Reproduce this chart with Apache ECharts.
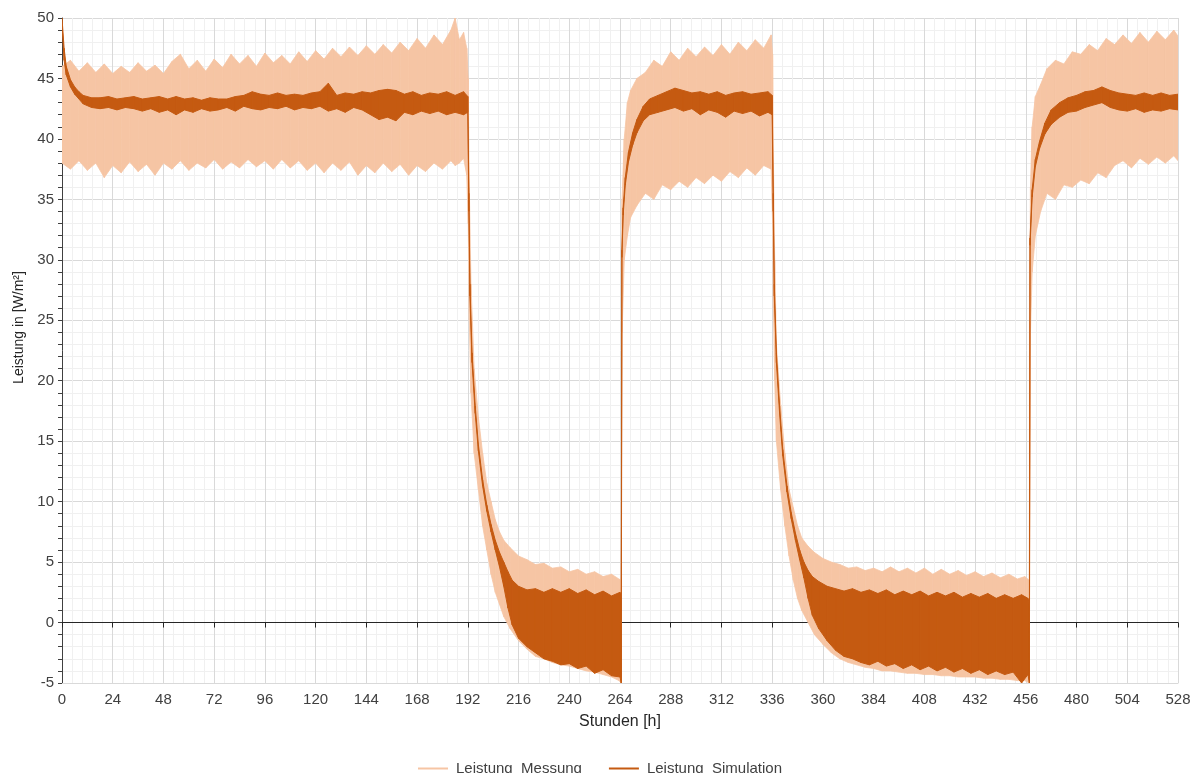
<!DOCTYPE html>
<html>
<head>
<meta charset="utf-8">
<script src="https://cdn.jsdelivr.net/npm/echarts@6/dist/echarts.min.js"></script>
<style>html,body{margin:0;padding:0;background:#fff;}#c{width:1200px;height:773px;}</style>
</head>
<body>
<div id="c"></div>
<script>
// ---- Data ----
const xTicks = [0,24,48,72,96,120,144,168,192,216,240,264,288,312,336,360,384,408,432,456,480,504,528];
const yTicks = [-5,0,5,10,15,20,25,30,35,40,45,50];

// Leistung Messung: hours, lower envelope, upper envelope
const mH = [0,4,8,12,16,20,24,28,32,36,40,44,48,52,56,60,64,68,72,76,80,84,88,92,96,100,104,108,112,116,120,124,128,132,136,140,144,148,152,156,160,164,168,172,176,180,184,186,188,190,191.5,
  192.2,192.7,193.5,195,197,199,201,203,205,207,209,212,216,220,224,228,232,236,240,244,248,252,256,260,263.5,264.5,
  265,266,267.5,269,272,276,280,284,288,292,296,300,304,308,312,316,320,324,328,332,335.5,
  336.2,336.6,337.2,338,340,342,344,346,348,350,353,356,360,364,368,372,376,380,384,388,392,396,400,404,408,412,416,420,424,428,432,436,440,444,448,452,455.5,457.6,
  458.2,459,460.5,463,466,470,474,478,482,486,490,494,498,502,506,510,514,518,522,526,528];
const mLo = [38.0,37.5,38.2,37.4,38.0,36.8,37.8,37.2,38.1,37.3,37.9,37.0,38.0,37.5,38.2,37.4,38.0,37.6,38.3,37.5,38.1,37.6,38.3,37.7,38.2,37.5,38.3,37.6,38.2,37.4,38.0,37.2,38.0,37.4,38.1,37.0,37.8,37.2,38.0,37.3,37.9,37.0,37.8,37.3,38.0,37.5,38.2,37.8,38.0,38.4,37.0,
  33,25,19,14,11,8,6,4,2.5,1.5,0.5,-0.5,-1.5,-2.2,-2.8,-3.0,-3.3,-3.5,-3.6,-3.8,-4.0,-4.1,-4.3,-4.5,-4.8,-5,
  24,30,32,33.5,34.5,35.5,35.0,36.2,35.8,36.5,36.0,36.8,36.3,37.0,36.5,37.3,36.8,37.6,37.0,37.8,37.5,
  33,26,20,15,11,8,5.5,3.5,2,1,0,-1,-1.8,-2.5,-3.0,-3.3,-3.5,-3.7,-3.8,-4.0,-4.0,-4.1,-4.2,-4.2,-4.3,-4.3,-4.4,-4.4,-4.5,-4.5,-4.5,-4.6,-4.6,-4.7,-4.7,-4.8,-4.8,-5,
  24,29,32,34,35.5,35.0,36.2,36.0,36.6,36.3,37.2,36.8,37.8,38.2,37.6,38.4,37.9,38.5,38.0,38.6,38.2];
const mHi = [46.0,46.5,45.6,46.3,45.5,46.2,45.4,46.0,45.5,46.3,45.6,46.1,45.4,46.4,47.0,45.8,46.5,45.6,46.6,45.9,47.0,46.2,46.9,46.0,47.1,46.3,46.9,46.2,47.2,46.4,47.3,46.6,47.5,46.8,47.6,46.9,47.7,47.0,47.8,47.1,48.0,47.3,48.3,47.5,48.6,47.8,49.0,50.0,48.2,48.8,47.5,
  45,36,28,21,17,14,11.5,10,8.5,7.5,6.8,6.2,5.5,5.2,4.8,4.9,4.5,4.6,4.2,4.4,4.0,4.2,3.8,4.0,3.6,3.5,
  35,40,43,44,45,45.5,46.5,46.0,47.2,46.5,47.5,46.8,47.6,46.9,47.8,47.0,48.0,47.3,48.2,47.5,48.6,
  47,38,30,23,18,14,11,9.5,8,7,6.3,5.8,5.3,5.0,4.8,4.5,4.6,4.3,4.5,4.2,4.6,4.2,4.5,4.1,4.5,4.0,4.4,4.0,4.3,3.9,4.2,3.8,4.1,3.7,4.0,3.6,3.8,3.5,
  36,41,43.5,44.5,45.8,46.5,46.2,47.2,47.0,47.8,47.3,48.3,47.8,48.6,47.9,48.8,48.0,48.9,48.2,49.0,48.5];

// Leistung Simulation: hours, lower envelope, upper envelope
const sH = [0,1,2,4,6,8,10,14,18,22,26,30,34,38,42,46,50,54,58,62,66,70,74,78,82,86,90,94,98,102,106,110,114,118,122,126,130,134,138,142,146,150,154,158,162,166,170,174,178,182,186,190,192,
  192.5,193,194,195.5,197,199,201,203,205,207,209,211,213,216,220,224,228,232,236,240,244,248,252,256,260,264,264.6,
  264.9,265.5,266.5,268,270,272,275,278,282,286,290,294,298,302,306,310,314,318,322,326,330,334,336,
  336.5,337,338,339.5,341,343,345,347,349,351,353,355,358,362,366,370,374,378,382,386,390,394,398,402,406,410,414,418,422,426,430,434,438,442,446,450,454,457,457.7,
  458,459,460.5,462.5,465,468,472,476,480,484,488,492,496,500,504,508,512,516,520,524,528];
const sLo = [49.5,46.5,45.3,44.3,43.7,43.3,42.9,42.6,42.5,42.6,42.4,42.6,42.5,42.3,42.5,42.2,42.4,42.0,42.4,42.2,42.5,42.3,42.4,42.6,42.3,42.7,42.5,42.4,42.6,42.5,42.7,42.4,42.6,42.5,42.7,42.3,42.5,42.2,42.6,42.4,42.0,41.6,41.8,41.5,42.2,42.0,42.3,42.1,42.3,42.0,42.2,42.0,42.2,
  34,27,21.5,17.3,14.2,11.3,9.2,7.5,6.0,4.6,3.0,1.2,-0.2,-1.3,-2.0,-2.5,-3.0,-3.2,-3.5,-3.4,-3.8,-3.6,-4.2,-3.9,-4.4,-4.5,-5,
  30.2,33.7,36.2,38.1,39.5,40.5,41.5,42.0,42.2,42.4,42.6,42.3,42.5,42.0,42.4,42.2,41.8,42.3,42.1,42.3,41.9,42.2,42.0,
  34,27,21.5,17.3,13.8,10.8,8.6,6.8,5.2,3.7,2.0,0.6,-0.5,-1.5,-2.3,-2.8,-3.0,-3.3,-3.5,-3.2,-3.6,-3.4,-3.8,-3.5,-3.9,-3.6,-4.0,-3.7,-4.1,-3.8,-4.2,-3.9,-4.3,-4.0,-4.3,-4.1,-5.0,-4.3,-5,
  31.2,35.2,37.7,39.2,40.4,41.2,41.8,42.2,42.3,42.6,42.8,43.0,42.6,42.4,42.3,42.5,42.2,42.4,42.3,42.5,42.4];
const sHi = [50,47.5,46.0,44.9,44.3,43.9,43.6,43.4,43.4,43.5,43.3,43.4,43.5,43.3,43.4,43.5,43.3,43.5,43.3,43.4,43.2,43.4,43.3,43.3,43.5,43.6,43.9,43.7,43.6,43.8,43.6,43.7,43.6,43.8,43.9,44.6,43.6,43.8,43.7,43.9,43.8,44.0,44.1,44.0,43.7,43.9,43.6,43.8,43.7,43.9,43.6,43.9,43.5,
  35.5,28,22.3,17.9,14.7,11.8,9.7,8.1,6.8,5.8,5.0,4.2,3.5,3.0,2.7,2.8,2.5,2.8,2.5,2.8,2.4,2.7,2.3,2.6,2.2,2.5,2,
  30.8,34.3,36.8,38.9,40.5,41.6,42.7,43.3,43.6,43.9,44.2,44.0,43.8,43.9,43.7,43.9,43.6,43.8,43.9,43.7,43.8,43.9,43.6,
  35.5,28,22.3,17.9,14.3,11.3,9.1,7.4,6.0,5.0,4.3,3.8,3.4,3.0,2.8,2.6,2.8,2.5,2.7,2.4,2.7,2.3,2.6,2.3,2.6,2.2,2.5,2.2,2.5,2.1,2.4,2.1,2.4,2.0,2.3,2.0,2.3,2.0,1.5,
  31.8,35.8,38.3,39.8,41.3,42.4,43.0,43.4,43.6,43.9,44.0,44.3,44.0,43.8,43.7,43.6,43.8,43.6,43.8,43.6,43.7];

// ---- Build band segments: [h0, lo0, hi0, h1, lo1, hi1] ----
function segments(h, lo, hi) {
  const out = [];
  for (let i = 0; i < h.length - 1; i++) out.push([h[i], lo[i], hi[i], h[i + 1], lo[i + 1], hi[i + 1]]);
  return out;
}

const peach = '#F6C5A4';
const dark = '#C55A11';
const font = '"Liberation Sans", Arial, sans-serif';

function bandRenderer(color, lw) {
  return function (params, api) {
    const a = api.coord([api.value(0), api.value(1)]);
    const b = api.coord([api.value(0), api.value(2)]);
    const c = api.coord([api.value(3), api.value(5)]);
    const d = api.coord([api.value(3), api.value(4)]);
    return {
      type: 'polygon',
      shape: {points: [a, b, c, d]},
      style: {fill: color, stroke: color, lineWidth: lw, lineJoin: 'round'},
      silent: true
    };
  };
}

const chart = echarts.init(document.getElementById('c'), null, {renderer: 'canvas'});
chart.setOption({
  animation: false,
  backgroundColor: '#ffffff',
  textStyle: {fontFamily: font},
  grid: {left: 62, right: 22, top: 18, bottom: 90, containLabel: false},
  legend: {
    data: ['Leistung  Messung', 'Leistung  Simulation'],
    left: 'center', top: 756, icon: 'rect',
    itemWidth: 30, itemHeight: 2, itemGap: 27,
    textStyle: {fontFamily: font, fontSize: 15, color: '#404040', padding: [0, 0, 0, 3]}
  },
  xAxis: [{
    type: 'value', min: 0, max: 528, interval: 24, position: 'bottom',
    name: 'Stunden [h]', nameLocation: 'middle', nameGap: 31,
    nameTextStyle: {fontFamily: font, fontSize: 16, color: '#262626'},
    axisLine: {onZero: false, show: true, lineStyle: {color: '#d9d9d9', width: 1}},
    axisTick: {show: false},
    axisLabel: {fontFamily: font, fontSize: 15, color: '#404040', margin: 9,
      formatter: v => xTicks.indexOf(v) >= 0 ? String(v) : ''},
    splitLine: {show: true, lineStyle: {color: '#d9d9d9', width: 1}},
    minorTick: {show: false, splitNumber: 5},
    minorSplitLine: {show: true, lineStyle: {color: '#f0f0f0', width: 1}}
  }, {
    type: 'value', min: 0, max: 528, interval: 24, position: 'top',
    axisLine: {show: true, onZero: true, onZeroAxisIndex: 0, lineStyle: {color: '#262626', width: 1}},
    axisTick: {show: true, inside: true, length: 5, lineStyle: {color: '#262626'}},
    axisLabel: {show: false},
    splitLine: {show: false}
  }],
  yAxis: {
    type: 'value', min: -5, max: 50, interval: 5,
    name: 'Leistung in [W/m²]', nameLocation: 'middle', nameGap: 36, nameRotate: 90,
    nameTextStyle: {fontFamily: font, fontSize: 14, color: '#262626', padding: [0, 0, 0, 46]},
    axisLine: {show: true, onZero: false, lineStyle: {color: '#404040', width: 1}},
    axisTick: {show: true, length: 4, lineStyle: {color: '#404040'}},
    minorTick: {show: true, splitNumber: 5, length: 4, lineStyle: {color: '#404040'}},
    axisLabel: {fontFamily: font, fontSize: 15, color: '#404040', margin: 8,
      formatter: v => yTicks.indexOf(v) >= 0 ? String(v) : ''},
    splitLine: {show: true, lineStyle: {color: '#d9d9d9', width: 1}},
    minorSplitLine: {show: true, lineStyle: {color: '#f0f0f0', width: 1}}
  },
  series: [
    {name: 'Leistung  Messung', type: 'custom', xAxisIndex: 0, yAxisIndex: 0,
      data: segments(mH, mLo, mHi), encode: {x: [0, 3], y: [1, 2, 4, 5]},
      renderItem: bandRenderer(peach, 0.8), itemStyle: {color: peach}, clip: true, z: 2},
    {name: 'Leistung  Simulation', type: 'custom', xAxisIndex: 0, yAxisIndex: 0,
      data: segments(sH, sLo, sHi), encode: {x: [0, 3], y: [1, 2, 4, 5]},
      renderItem: bandRenderer(dark, 1), itemStyle: {color: dark}, clip: true, z: 3}
  ]
});
</script>
</body>
</html>
